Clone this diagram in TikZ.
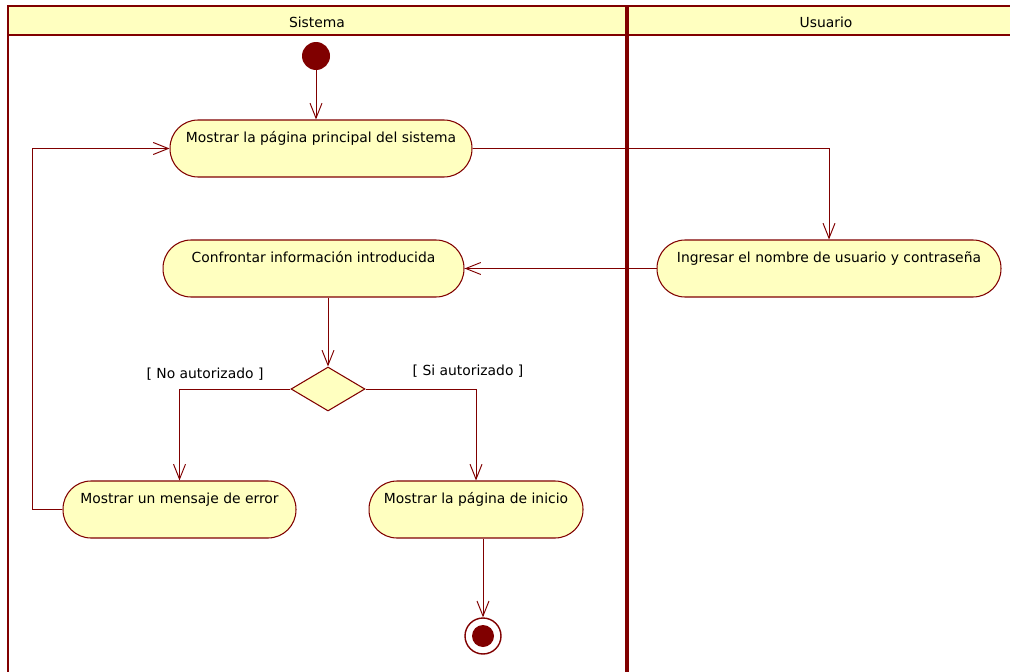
\documentclass[tikz,border=0pt]{standalone}
\usepackage{fontspec}
\setmainfont{DejaVu Sans}
\usetikzlibrary{shapes.geometric,positioning,arrows.meta}
\definecolor{umlred}{HTML}{800000}
\definecolor{umlfill}{HTML}{FFFFC0}

\begin{document}
\begin{tikzpicture}[x=0.02cm, y=-0.02cm,
    font=\fontsize{7.9}{9}\selectfont,
    action/.style={rectangle, rounded corners=0.56cm, draw=umlred, fill=umlfill, line width=0.6pt,
        minimum height=1.14cm, text height=0.2cm, text depth=0.43cm, inner sep=0pt},
    decision/.style={diamond, draw=umlred, fill=umlfill, line width=0.6pt,
        minimum width=1.48cm, minimum height=0.88cm, inner sep=0pt},
    startnode/.style={circle, fill=umlred, minimum size=0.56cm, inner sep=0pt},
    endnode/.style={circle, draw=umlred, line width=0.8pt, minimum size=0.72cm, inner sep=0pt,
        path picture={\fill[umlred] (path picture bounding box.center) circle (0.22cm);}},
    flow/.style={draw=umlred, line width=0.55pt, -{Straight Barb[length=0.3cm,width=0.24cm]}}]
    \useasboundingbox (0,0) rectangle (1010,672);
    \clip (0,0) rectangle (1010,672);

    % Swimlanes
    \fill[umlfill] (8,6) rectangle (1030,35);
    \draw[umlred, line width=1.2pt] (8,35) -- (1030,35);
    \draw[umlred, line width=2.2pt] (627,6) -- (627,690);
    \draw[umlred, line width=1.7pt] (8,690) -- (8,6) -- (1030,6);
    \node (lanesys) at (317,22) {Sistema};
    \node (laneuser) at (826,22) {Usuario};

    % Activities
    \node[startnode] (start) at (316,56) {};
    \node[action, minimum width=6.04cm] (showmain) at (321,148.5) {Mostrar la página principal del sistema};
    \node[action, minimum width=6.88cm] (login) at (829,268.5) {Ingresar el nombre de usuario y contraseña};
    \node[action, minimum width=6.02cm] (check) at (313.5,268.5) {Confrontar información introducida};
    \node[decision] (auth) at (328,389) {};
    \node[action, minimum width=4.66cm] (error) at (179.5,509.5) {Mostrar un mensaje de error};
    \node[action, minimum width=4.28cm] (home) at (476,509.5) {Mostrar la página de inicio};
    \node[endnode] (stop) at (483,636) {};

    % Guards
    \node (noauth) at (205,374) {[ No autorizado ]};
    \node (yesauth) at (468,371) {[ Si autorizado ]};

    % Flows
    \draw[flow] (start) -- (start |- showmain.north);
    \draw[flow] (showmain.east) -| (login.north);
    \draw[flow] (login.west) -- (check.east);
    \draw[flow] (auth.north |- check.south) -- (auth.north);
    \draw[flow] (auth.west) -| (error.north);
    \draw[flow] (auth.east) -| (home.north);
    \draw[flow] (error.west) -- ++(-30,0) |- (showmain.west);
    \draw[flow] (stop.north |- home.south) -- (stop.north);

\end{tikzpicture}
\end{document}
